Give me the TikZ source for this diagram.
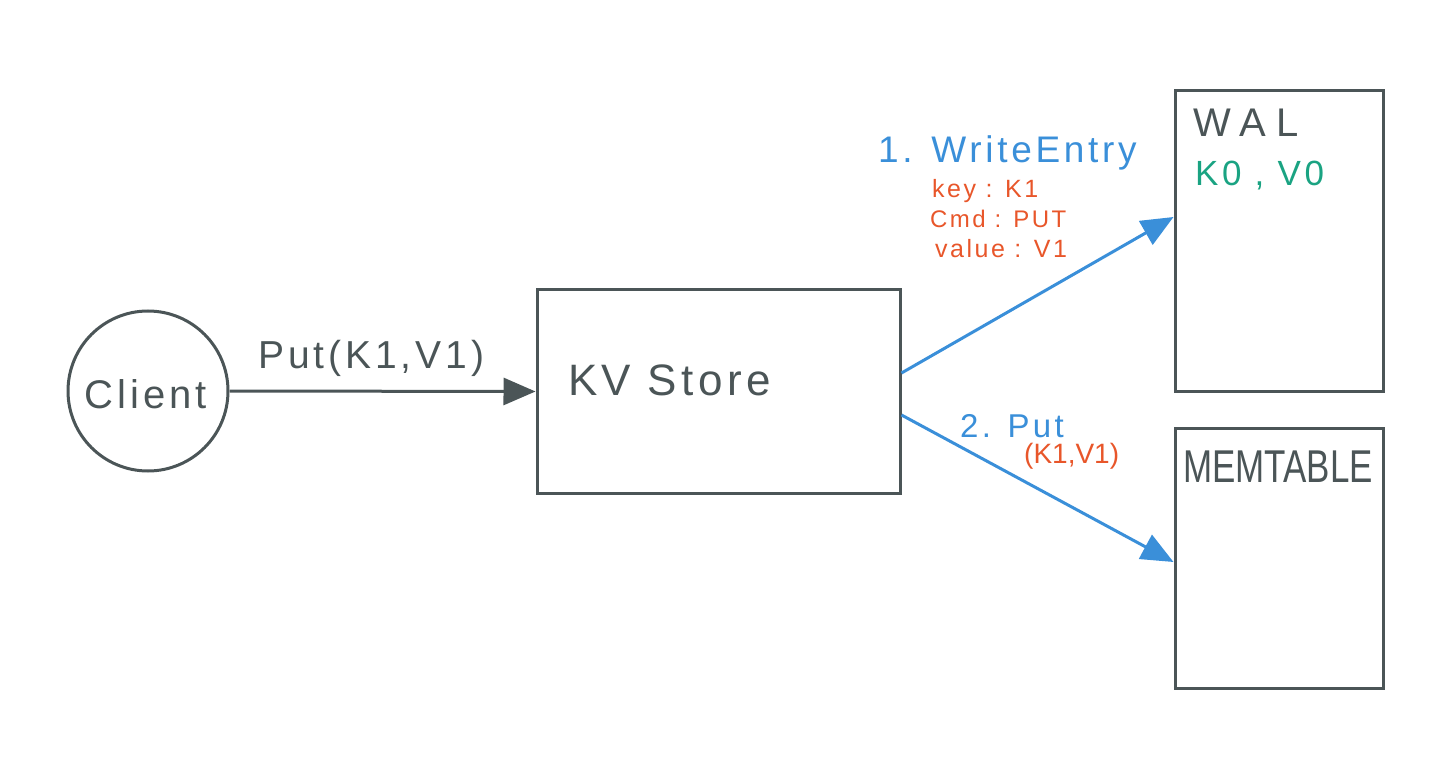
\documentclass[tikz,border=0pt]{standalone}
\usepackage{fontspec}
\setmainfont{Liberation Sans}
\newfontfamily\hand[LetterSpace=10]{Liberation Sans}
\newfontfamily\handwide[LetterSpace=25]{Liberation Sans}
\newfontfamily\handtight{Liberation Sans}
\usetikzlibrary{arrows.meta}
\definecolor{ink}{HTML}{4B5557}
\definecolor{bl}{HTML}{3A8FD9}
\definecolor{orn}{HTML}{E8562A}
\definecolor{grn}{HTML}{1AA382}
\tikzset{
  box/.style={draw=ink, line width=3pt, minimum width=#1},
  lbl/.style={inner sep=0pt, anchor=base west, font=\hand},
  garr/.style={draw=ink, line width=3pt, -{Triangle[length=32pt,width=27pt]}},
  barr/.style={draw=bl, line width=3pt, -{Triangle[length=32pt,width=27pt]}},
}
\begin{document}
\begin{tikzpicture}[x=1pt,y=-1pt]
\useasboundingbox (0,0) rectangle (1456,759);
\node[draw=ink, line width=3pt, circle, minimum size=160pt, inner sep=0pt] (client) at (148,391) {};
\node[box=363pt, minimum height=203pt] (kv) at (718.5,391.5) {};
\node[box=208pt, minimum height=300pt] (wal) at (1279,241) {};
\node[box=208pt, minimum height=260pt] (mem) at (1279,558) {};

\node[lbl, text=ink, anchor=base] (clienttxt) at (146,408) {\fontsize{40}{46}\selectfont Client};
\node[lbl, text=ink] (kvtxt) at (568,395) {\fontsize{44}{50}\selectfont KV Store};
\node[lbl, text=ink, font=\handwide] (waltxt) at (1193,137) {\fontsize{40}{46}\selectfont WAL};
\node[lbl, text=grn] (walentry) at (1195,186) {\fontsize{35}{40}\selectfont K0 , V0};
\node[lbl, text=ink, font=\handtight] (memtxt) at (1183,482) {\scalebox{0.76}[1]{\fontsize{46}{52}\selectfont MEMTABLE}};

\node[lbl, text=ink] (puttxt) at (258,368) {\fontsize{39}{44}\selectfont Put(K1,V1)};
\node[lbl, text=bl] (w1) at (878,163) {\fontsize{37}{42}\selectfont 1. WriteEntry};
\node[lbl, text=orn] (w1a) at (932,198) {\fontsize{25}{30}\selectfont key : K1};
\node[lbl, text=orn] (w1b) at (930,228) {\fontsize{24}{30}\selectfont Cmd : PUT};
\node[lbl, text=orn] (w1c) at (935,258) {\fontsize{25}{30}\selectfont value : V1};
\node[lbl, text=bl] (p2) at (960,437) {\fontsize{33}{38}\selectfont 2. Put};
\node[lbl, text=orn, font=\handtight] (p2a) at (1024,463) {\fontsize{28}{32}\selectfont (K1,V1)};

\draw[garr] (client.east) -- (kv.west);
\draw[barr] ([yshift=18.5pt]kv.east) -- ([yshift=24pt]wal.west);
\draw[barr] ([yshift=-23.5pt]kv.east) -- ([yshift=-4pt]mem.west);
\end{tikzpicture}
\end{document}
